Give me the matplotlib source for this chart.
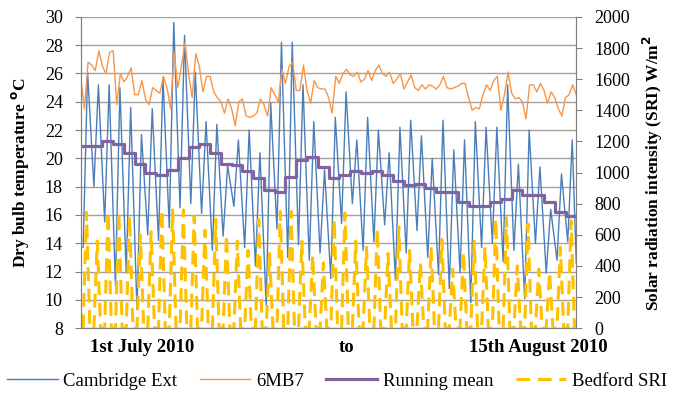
import numpy as np
import matplotlib
matplotlib.use("Agg")
import matplotlib.pyplot as plt

plt.rcParams['font.family'] = ['Liberation Serif', 'DejaVu Serif']

# Cambridge Ext: morning minimum and afternoon maximum, one per day (deg C)
camb_min = [13.7, 18.0, 15.5, 11.0, 11.9, 9.3, 14.6, 14.2, 15.1, 16.5,
            16.8, 16.1, 13.5, 14.5, 16.6, 13.7, 12.4, 9.6, 15.0, 13.0,
            13.9, 12.8, 13.3, 11.5, 15.4, 16.8, 13.5, 14.1, 15.3, 11.4,
            13.3, 14.9, 13.0, 11.8, 10.8, 11.9, 9.8, 13.7, 14.0, 12.7,
            13.5, 10.1, 14.0, 11.9, 12.8, 14.1, 12.6]
camb_max = [26.1, 25.2, 25.2, 25.0, 23.6, 21.7, 23.5, 25.7, 29.6, 28.7,
            26.1, 22.6, 22.4, 19.5, 21.3, 22.0, 20.4, 23.9, 28.2, 28.2,
            25.2, 22.6, 19.2, 22.9, 24.7, 21.3, 22.9, 22.0, 20.4, 22.2,
            22.7, 21.6, 20.0, 22.7, 20.6, 21.3, 22.6, 22.2, 22.2, 25.2,
            19.6, 22.0, 19.4, 16.4, 18.9, 21.3]

# 6MB7 room temperature, read every 8 hours (deg C)
mb7 = [25.6, 23.5, 26.8, 26.6, 26.2, 27.6, 26.5, 26.0, 27.5, 27.6,
       23.8, 26.0, 25.4, 25.8, 26.4, 24.5, 24.5, 25.5, 24.2, 23.8,
       25.0, 24.8, 24.6, 25.8, 25.0, 23.5, 27.5, 25.0, 26.5, 28.2,
       26.0, 24.3, 27.4, 26.5, 24.7, 25.8, 25.8, 24.7, 24.3, 24.0,
       23.2, 24.2, 23.5, 22.3, 24.0, 24.2, 23.0, 22.9, 23.0, 23.2,
       24.2, 23.8, 23.0, 25.0, 24.5, 24.0, 26.3, 25.3, 26.5, 26.8,
       24.8, 24.8, 26.6, 24.8, 23.9, 25.5, 25.0, 24.9, 24.9, 24.3,
       23.2, 25.8, 25.3, 26.0, 26.3, 25.9, 25.8, 26.1, 25.4, 25.6,
       26.2, 25.5, 26.2, 26.6, 26.0, 25.8, 26.1, 25.3, 25.6, 26.0,
       24.9, 25.4, 25.9, 25.0, 24.8, 25.2, 24.9, 25.2, 25.1, 24.9,
       25.2, 25.8, 25.0, 24.9, 25.0, 25.1, 25.3, 25.3, 24.3, 23.4,
       23.6, 23.5, 24.5, 25.2, 24.8, 25.5, 25.8, 23.4, 24.5, 26.1,
       24.6, 24.2, 24.3, 24.0, 22.8, 25.2, 25.2, 24.7, 25.3, 24.8,
       23.9, 24.7, 24.3, 23.5, 23.0, 24.3, 24.5, 25.2, 24.5]

# running mean, one value per day (deg C)
run_mean = [20.9, 20.9, 21.2, 21.0, 20.4, 19.6, 19.0, 18.8, 19.2, 20.0,
            20.8, 21.0, 20.4, 19.6, 19.5, 19.1, 18.6, 17.8, 17.6, 18.7,
            19.9, 20.1, 19.4, 18.6, 18.8, 19.1, 19.0, 19.1, 18.8, 18.4,
            18.1, 18.2, 17.9, 17.6, 17.6, 16.9, 16.6, 16.6, 16.9, 17.1,
            17.8, 17.4, 17.4, 16.9, 16.2, 15.9]

# Bedford SRI daily peak (W/m2), zero overnight
sri_peak = [745, 560, 745, 745, 720, 600, 620, 760, 760, 760,
            720, 630, 700, 600, 560, 500, 700, 480, 750, 750,
            560, 470, 420, 700, 740, 560, 520, 640, 480, 650,
            500, 420, 520, 570, 380, 490, 560, 520, 700, 710,
            400, 670, 380, 360, 520, 690]

x_labels = ['1st July 2010', 'to', '15th August 2010']

n_days = len(run_mean)
days = np.arange(n_days)

# time axis in days
t_camb = np.sort(np.concatenate([days + 5 / 24, days + 15 / 24, [n_days]]))
camb = np.empty(len(t_camb))
camb[0::2] = camb_min
camb[1::2] = camb_max

t_mb7 = np.arange(len(mb7)) / 3

t_sri = np.sort(np.concatenate([days + 5 / 24, days + 12.5 / 24, days + 20 / 24]))
sri = np.zeros(len(t_sri))
sri[1::3] = sri_peak

fig = plt.figure(figsize=(6.74, 3.93), dpi=100)
ax = fig.add_axes([0.120, 0.165, 0.735, 0.792])
ax2 = ax.twinx()

l1, = ax.plot(t_camb, camb, color='#4a7ebb', lw=1.0, label='Cambridge Ext')
l2, = ax.plot(t_mb7, mb7, color='#f79646', lw=1.0, label='6MB7')
l3, = ax.step(np.append(days, n_days), run_mean + [run_mean[-1]], where='post',
              color='#8064a2', lw=2.3, label='Running mean')
l4, = ax2.plot(t_sri, sri, color='#ffc000', lw=2.2, dashes=(4.5, 2.5),
               label='Bedford SRI')

ax.set_xlim(0, n_days)
ax.set_ylim(8, 30)
ax.set_yticks(np.arange(8, 31, 2))
ax2.set_ylim(0, 2000)
ax2.set_yticks(np.arange(0, 2001, 200))
ax.grid(axis='y', color='#a0a0a0', lw=1.0)
ax.set_axisbelow(True)

ax.set_xticks([5.66, 24.7, 42.5])
ax.set_xticklabels(x_labels, fontweight='bold', fontsize=13.5)
ax.tick_params(axis='x', length=0, pad=8)
ax.tick_params(axis='y', labelsize=13, length=4, color='#808080', pad=9)
ax2.tick_params(axis='y', labelsize=13, length=4, color='#808080', pad=9)

for a in (ax, ax2):
    for s in a.spines.values():
        s.set_color('#808080')
    a.spines['top'].set_visible(False)

ax.set_ylabel('Dry bulb temperature $^{\\mathbf{o}}$C', fontweight='bold',
              fontsize=12.5, labelpad=10)
ax2.set_ylabel('Solar radiation intensity (SRI) W/m$^{\\mathbf{2}}$',
               fontweight='bold', fontsize=12.5, labelpad=8)

fig.legend([l1, l2, l3, l4], [h.get_label() for h in (l1, l2, l3, l4)],
           loc='lower center', bbox_to_anchor=(0.5, -0.035), ncol=4,
           frameon=False, fontsize=13.5, handlelength=2.7, columnspacing=1.2,
           handletextpad=0.3)

plt.savefig('out.png', dpi=100)
